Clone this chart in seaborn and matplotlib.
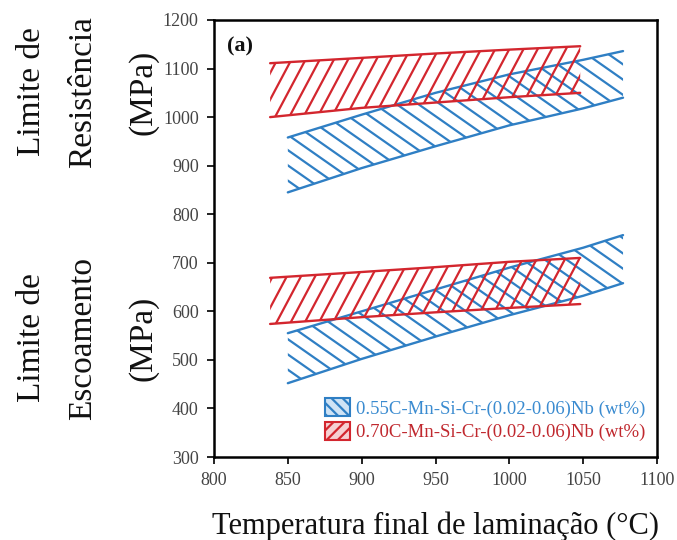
import numpy as np
import matplotlib
matplotlib.use("Agg")
import matplotlib.pyplot as plt
import seaborn as sns
from matplotlib.collections import LineCollection
from matplotlib.patches import Patch

# Final rolling temperature (°C) for each alloy
temp_055 = [850, 900, 950, 1000, 1050, 1077]
temp_070 = [838, 900, 950, 1000, 1048]

# Tensile strength bands (MPa)
uts_055_upper = [958, 1005, 1050, 1088, 1118, 1136]
uts_055_lower = [845, 895, 940, 983, 1018, 1040]
uts_070_upper = [1111, 1122, 1131, 1139, 1146]
uts_070_lower = [1000, 1019, 1030, 1041, 1050]

# Yield strength bands (MPa)
ys_055_upper = [555, 600, 645, 690, 731, 757]
ys_055_lower = [452, 502, 548, 592, 632, 658]
ys_070_upper = [669, 681, 691, 702, 710]
ys_070_lower = [574, 588, 598, 607, 615]

label_055 = "0.55C-Mn-Si-Cr-(0.02-0.06)Nb (wt%)"
label_070 = "0.70C-Mn-Si-Cr-(0.02-0.06)Nb (wt%)"
x_ticks = [800, 850, 900, 950, 1000, 1050, 1100]
y_ticks = [300, 400, 500, 600, 700, 800, 900, 1000, 1100, 1200]

BLUE = "#2f7fc4"
RED = "#d3262e"

sns.set_theme(style="white")
plt.rcParams["font.family"] = ["Liberation Serif", "DejaVu Serif"]
plt.rcParams["hatch.linewidth"] = 1.6

fig = plt.figure(figsize=(6.77, 5.40), dpi=100)
ax = fig.add_axes([214 / 677, 1 - 457 / 540, 443 / 677, 437 / 540])
ax.set_xlim(800, 1100)
ax.set_ylim(300, 1200)


def hatched_band(x, lo, hi, color, angle_deg, spacing_px, lw=1.6):
    """Outline a band with its two boundaries and fill it with slanted lines."""
    poly = ax.fill_between(x, lo, hi, facecolor="none", edgecolor="none", lw=0)
    path = poly.get_paths()[0]
    verts = ax.transData.transform(path.vertices)
    x0, y0 = verts.min(axis=0)
    x1, y1 = verts.max(axis=0)
    cx, cy = (x0 + x1) / 2, (y0 + y1) / 2
    half = np.hypot(x1 - x0, y1 - y0) / 2 + spacing_px
    a = np.deg2rad(angle_deg)
    d = np.array([np.cos(a), np.sin(a)])
    nrm = np.array([-np.sin(a), np.cos(a)])
    offsets = np.arange(-half, half + spacing_px, spacing_px)
    inv = ax.transData.inverted()
    segs = []
    for o in offsets:
        c = np.array([cx, cy]) + o * nrm
        segs.append(inv.transform(np.array([c - half * d, c + half * d])))
    lc = LineCollection(segs, colors=color, linewidths=lw)
    ax.add_collection(lc)
    lc.set_clip_path(path, ax.transData)
    for yy in (lo, hi):
        sns.lineplot(x=x, y=yy, ax=ax, color=color, lw=1.7, sort=False,
                     estimator=None)


hatched_band(temp_055, uts_055_lower, uts_055_upper, BLUE, -35, 12.5)
hatched_band(temp_055, ys_055_lower, ys_055_upper, BLUE, -35, 12.5)
hatched_band(temp_070, uts_070_lower, uts_070_upper, RED, 62, 12.5)
hatched_band(temp_070, ys_070_lower, ys_070_upper, RED, 62, 12.5)

ax.set_xlim(800, 1100)
ax.set_ylim(300, 1200)
ax.set_xticks(x_ticks)
ax.set_yticks(y_ticks)
ax.tick_params(axis="both", direction="out", length=5, width=1.4, pad=6,
               labelsize=13, labelcolor="#444444", color="#222222",
               bottom=True, left=True)
for sp in ax.spines.values():
    sp.set_visible(True)
    sp.set_color("black")
    sp.set_linewidth(1.8)
ax.set_xlabel("")
ax.set_ylabel("")

ax.text(0.03, 0.94, "(a)", transform=ax.transAxes, fontsize=16,
        fontweight="bold", ha="left", va="center", color="#111111")

handles = [
    Patch(facecolor="#cfe3f5", edgecolor=BLUE, hatch="\\\\\\", lw=1.5),
    Patch(facecolor="#f6d0d2", edgecolor=RED, hatch="///", lw=1.5),
]
leg = ax.legend(handles, [label_055, label_070], loc="lower right",
                bbox_to_anchor=(1.0, 0.01), frameon=False, fontsize=13.5,
                handlelength=1.3, handleheight=1.05, handletextpad=0.35,
                labelspacing=0.25, borderaxespad=0.2)
for txt, col in zip(leg.get_texts(), ["#3a8bd0", "#c0282e"]):
    txt.set_color(col)

# Stacked axis titles for the two property groups
for xs, txt in zip([32, 83, 143], ["Limite de", "Resistência", "(MPa)"]):
    fig.text(xs / 677, 1 - 92 / 540, txt, rotation=90, ha="center",
             va="center", fontsize=24, color="#111111")
for xs, txt in zip([32, 83, 143], ["Limite de", "Escoamento", "(MPa)"]):
    fig.text(xs / 677, 1 - 338 / 540, txt, rotation=90, ha="center",
             va="center", fontsize=24, color="#111111")

fig.text(435 / 677, 1 - 526 / 540, "Temperatura final de laminação (°C)",
         ha="center", va="center", fontsize=22, color="#111111")

fig.savefig("out.png", dpi=100)
